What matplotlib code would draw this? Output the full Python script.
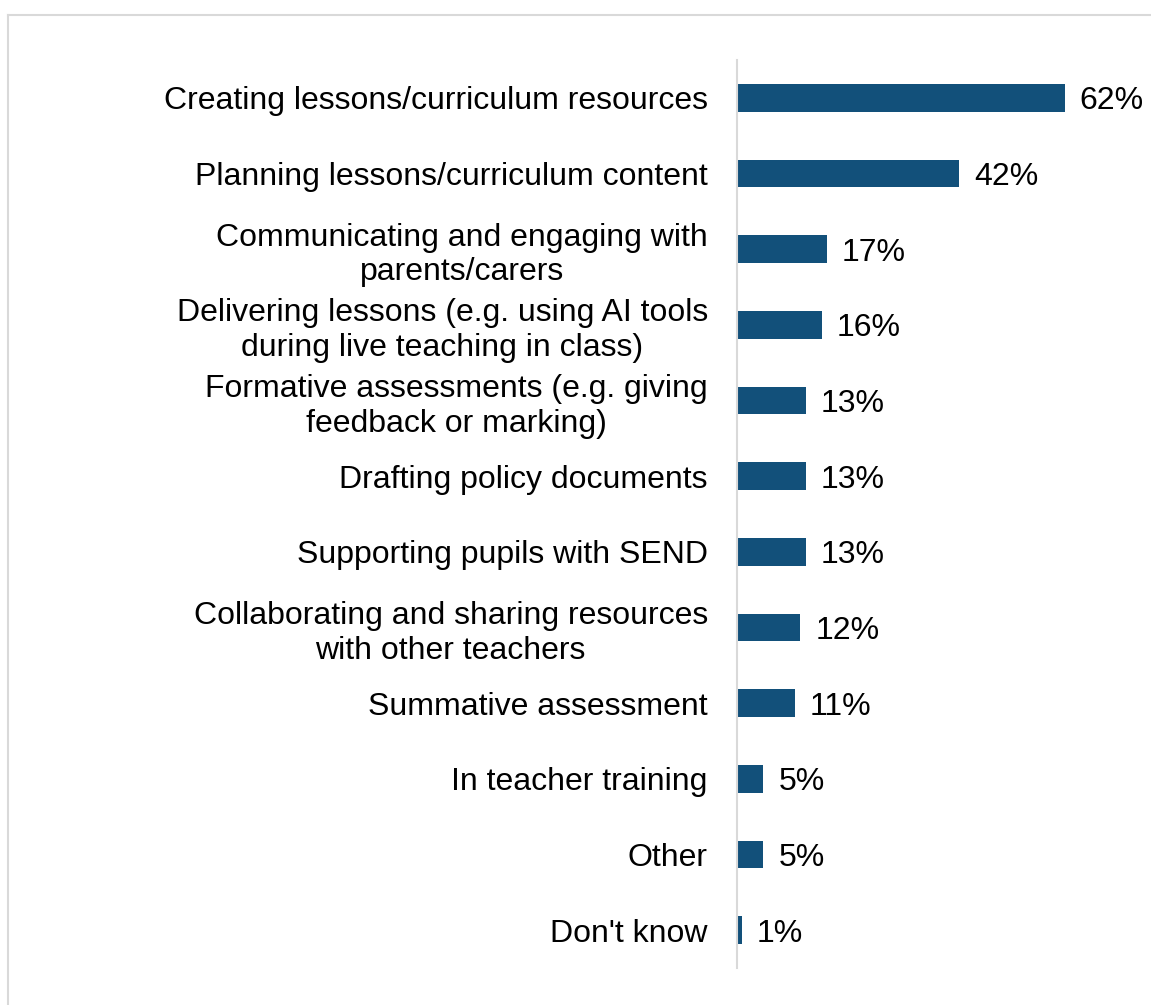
import numpy as np
import matplotlib.pyplot as plt
from matplotlib.lines import Line2D

plt.rcParams['font.family'] = ['Liberation Sans', 'DejaVu Sans']

# ------------ data -------------
labels = ['Creating lessons/curriculum resources',
          'Planning lessons/curriculum content',
          'Communicating and engaging with\nparents/carers',
          'Delivering lessons (e.g. using AI tools\nduring live teaching in class)',
          'Formative assessments (e.g. giving\nfeedback or marking)',
          'Drafting policy documents',
          'Supporting pupils with SEND',
          'Collaborating and sharing resources\nwith other teachers',
          'Summative assessment',
          'In teacher training',
          'Other',
          "Don't know"]
values = [62, 42, 17, 16, 13, 13, 13, 12, 11, 5, 5, 1]

W, H = 1151, 1005
fig = plt.figure(figsize=(W / 100, H / 100), dpi=100)

# light frame round the chart
fig.add_artist(Line2D([8 / W, 8 / W], [0, 1 - 15 / H], color='#d9d9d9', lw=1.5))
fig.add_artist(Line2D([8 / W, 1], [1 - 15 / H, 1 - 15 / H], color='#d9d9d9', lw=1.5))

ax = fig.add_axes([737 / W, 1 - 968 / H, (1140 - 737) / W, 908 / H])
y = np.arange(len(labels))
ax.barh(y, values, height=0.37, color='#12507a')
ax.set_ylim(len(labels) - 0.5, -0.5)
ax.set_xlim(0, (1140 - 737) / 5.29)

for yi, v in zip(y, values):
    ax.text(v + 2.8, yi, f'{v}%', va='center_baseline', ha='left', fontsize=23)

ax.set_yticks(y)
ax.set_yticklabels(labels, fontsize=23, multialignment='center', linespacing=1.2)
ax.tick_params(axis='y', length=0, pad=21)
ax.set_xticks([])
for s in ['top', 'right', 'bottom']:
    ax.spines[s].set_visible(False)
ax.spines['left'].set_color('#d9d9d9')
ax.spines['left'].set_linewidth(1.5)

fig.savefig('out.png', dpi=100)
